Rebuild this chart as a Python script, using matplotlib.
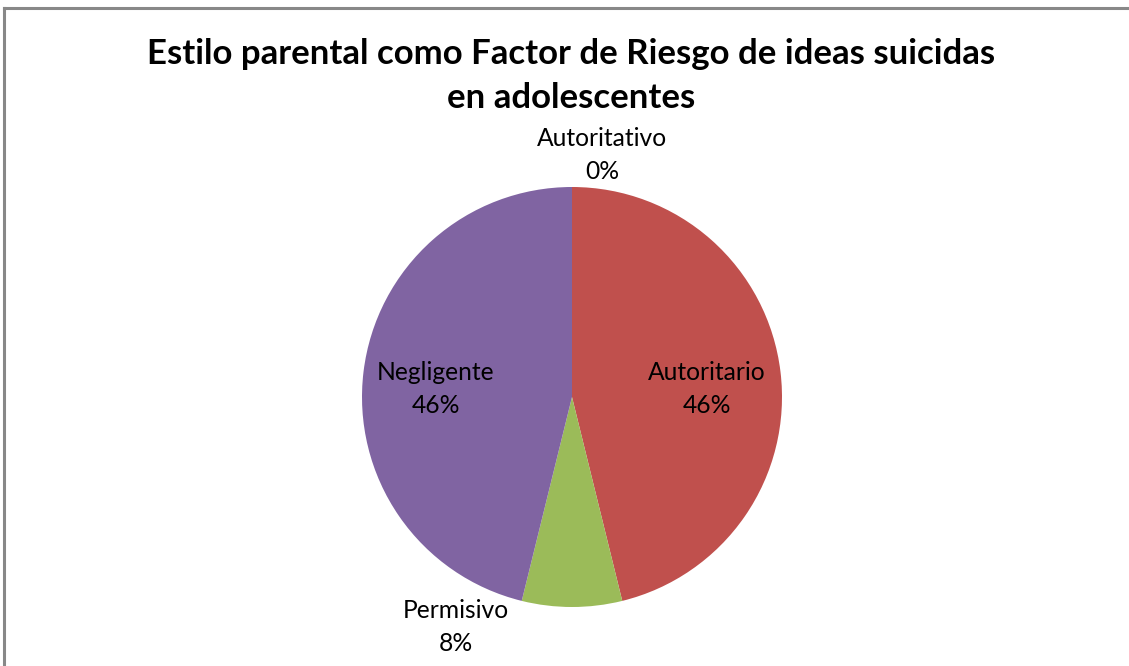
import matplotlib
matplotlib.use('Agg')
import matplotlib.pyplot as plt
from matplotlib.lines import Line2D

# datos del grafico
categorias = ['Autoritativo', 'Autoritario', 'Permisivo', 'Negligente']
valores = [0, 6, 1, 6]
colores = ['#4F81BD', '#C0504D', '#9BBB59', '#8064A2']
titulo = 'Estilo parental como Factor de Riesgo de ideas suicidas\nen adolescentes'

W, H = 1129, 666
cx, cy, r = 572, 397, 210

plt.rcParams['font.family'] = ['Lato', 'DejaVu Sans']

fig = plt.figure(figsize=(W / 100, H / 100), dpi=100)
fig.patch.set_facecolor('white')

ax = fig.add_axes([(cx - r) / W, (H - cy - r) / H, 2 * r / W, 2 * r / H])
ax.pie(valores, colors=colores, startangle=90, counterclock=False, radius=1,
       wedgeprops=dict(linewidth=0))
ax.set_xlim(-1, 1)
ax.set_ylim(-1, 1)
ax.set_aspect('auto')
ax.axis('off')

# posiciones de etiquetas en pixeles (centro del bloque de texto)
pos_etiquetas = [(602, 155), (707, 389), (436, 389), (456, 627)]
orden = [0, 1, 3, 2]
total = sum(valores)
for i, (px, py) in zip(orden, pos_etiquetas):
    pct = round(100 * valores[i] / total)
    fig.text(px / W, (H - py) / H, f'{categorias[i]}\n{pct}%', ha='center', va='center',
             fontsize=17.7, color='black', linespacing=1.5)

fig.text(571 / W, (H - 76) / H, titulo, ha='center', va='center', fontsize=25,
         fontweight='bold', linespacing=1.45)

# marco
fig.add_artist(Line2D([4 / W, 1], [(H - 8) / H] * 2, color='#888888', lw=2.2,
                      transform=fig.transFigure))
fig.add_artist(Line2D([4 / W] * 2, [0, (H - 8) / H], color='#888888', lw=2.2,
                      transform=fig.transFigure))

fig.savefig('out.png', dpi=100)
